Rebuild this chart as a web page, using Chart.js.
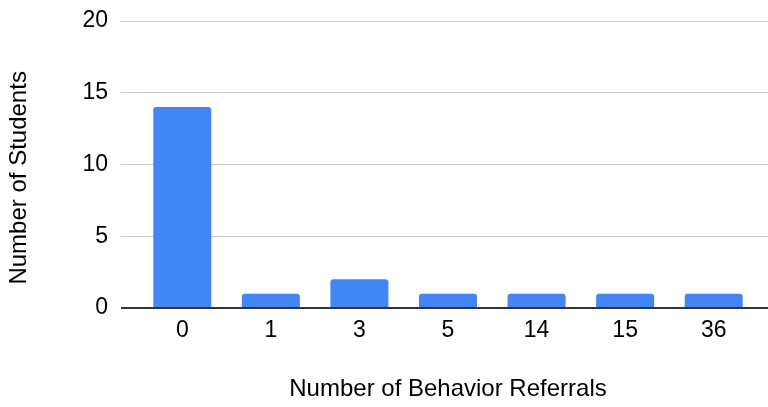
<!DOCTYPE html>
<html>
<head>
<meta charset="utf-8">
<script src="https://cdn.jsdelivr.net/npm/chart.js@4/dist/chart.umd.min.js"></script>
<style>
  html, body { margin: 0; padding: 0; background: #fff; }
  #wrap { width: 768px; height: 407px; }
</style>
</head>
<body>
<div id="wrap"><canvas id="c" width="768" height="407"></canvas></div>
<script>
// Referral counts and how many students had each
const referralCounts = ['0', '1', '3', '5', '14', '15', '36'];
const studentCounts = [14, 1, 2, 1, 1, 1, 1];
const yTickValues = [0, 5, 10, 15, 20];

const tickFont = { family: 'Liberation Sans, Arial, sans-serif', size: 23 };
const titleFont = { family: 'Liberation Sans, Arial, sans-serif', size: 24 };

// baseline drawn dark, other gridlines light grey
const gridColor = ctx => (ctx.tick && ctx.tick.value === 0 ? '#333333' : '#cccccc');
const gridWidth = ctx => (ctx.tick && ctx.tick.value === 0 ? 2 : 1);
const setTicks = s => { s.ticks = yTickValues.map(v => ({ value: v })); };

new Chart(document.getElementById('c'), {
  type: 'bar',
  data: {
    labels: referralCounts,
    datasets: [{
      data: studentCounts,
      backgroundColor: '#4285F4',
      borderRadius: 3,
      borderSkipped: 'start',
      barPercentage: 0.655,
      categoryPercentage: 1,
      yAxisID: 'y'
    }]
  },
  options: {
    responsive: false,
    animation: false,
    layout: { padding: { top: 21, right: 0, left: 0, bottom: 0 } },
    plugins: { legend: { display: false }, tooltip: { enabled: false } },
    scales: {
      x: {
        grid: { display: false, drawTicks: false },
        border: { display: false },
        ticks: { color: '#000', font: tickFont, padding: 9 },
        title: {
          display: true,
          text: 'Number of Behavior Referrals',
          color: '#000',
          font: titleFont,
          padding: { top: 0, bottom: 3 }
        },
        afterFit: s => { s.height = 99; }
      },
      y: {
        position: 'left',
        min: 0,
        max: 20,
        afterBuildTicks: setTicks,
        grid: { color: gridColor, lineWidth: gridWidth, drawTicks: true, tickLength: 17 },
        border: { display: false },
        ticks: { color: '#000', font: tickFont, padding: 13 },
        title: {
          display: true,
          text: 'Number of Students    ',
          color: '#000',
          font: titleFont,
          padding: { top: 5, bottom: 0 }
        },
        afterFit: s => { s.width = 138; s.paddingTop = 0; s.paddingBottom = 0; }
      },
      yRight: {
        position: 'right',
        min: 0,
        max: 20,
        afterBuildTicks: setTicks,
        grid: { color: gridColor, lineWidth: gridWidth, drawOnChartArea: false, drawTicks: true, tickLength: 10 },
        border: { display: false },
        ticks: { display: false },
        afterFit: s => { s.width = 10; s.paddingTop = 0; s.paddingBottom = 0; }
      }
    }
  }
});
</script>
</body>
</html>
